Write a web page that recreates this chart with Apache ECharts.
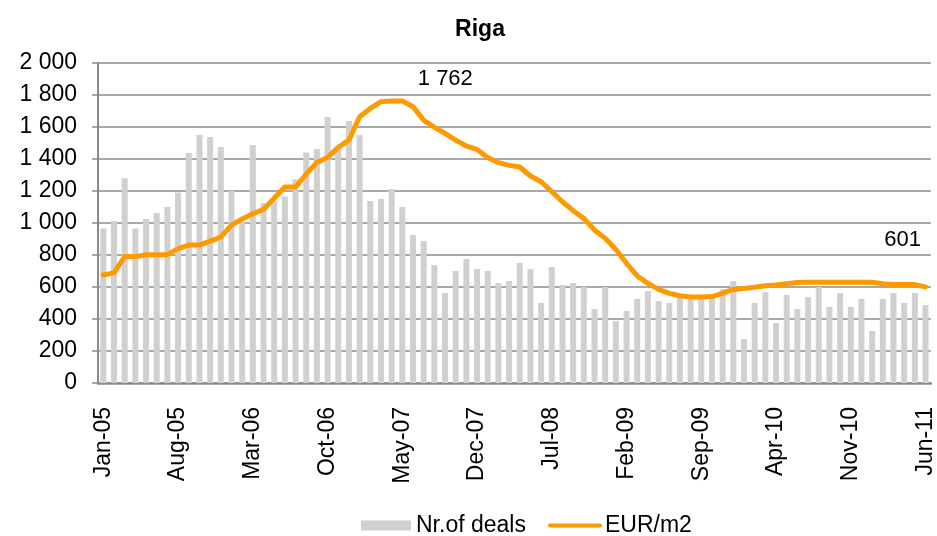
<!DOCTYPE html>
<html>
<head>
<meta charset="utf-8">
<script src="https://cdn.jsdelivr.net/npm/echarts@6/dist/echarts.min.js"></script>
<style>
  html, body { margin: 0; padding: 0; background: #fff; }
  #chart { width: 937px; height: 536px; }
</style>
</head>
<body>
<div id="chart"></div>
<script>
// months Jan-05 .. Jun-11
var monthNames = ['Jan','Feb','Mar','Apr','May','Jun','Jul','Aug','Sep','Oct','Nov','Dec'];
var years = ['05','06','07','08','09','10','11'];
var months = [];
years.forEach(function (y) {
    monthNames.forEach(function (m) {
        months.push(m + '-' + y);
    });
});
months = months.slice(0, 78);

// Nr. of deals (bars)
var deals = [
    965, 1012, 1280, 965, 1025, 1062, 1100, 1190, 1437, 1550, 1537, 1475,
    1200, 1010, 1487, 1125, 1135, 1165, 1273, 1440, 1462, 1662, 1470, 1637,
    1550, 1137, 1150, 1212, 1100, 925, 887, 737, 562, 700, 775, 712,
    700, 625, 637, 750, 712, 500, 725, 612, 625, 600, 462, 600,
    387, 450, 525, 575, 512, 500, 540, 530, 530, 540, 587, 637,
    275, 500, 567, 375, 550, 462, 537, 600, 475, 562, 475, 525,
    325, 525, 562, 500, 562, 487
];

// EUR/m2 (line)
var price = [
    675, 688, 790, 790, 802, 802, 802, 840, 862, 862, 887, 912,
    987, 1025, 1058, 1085, 1154, 1225, 1225, 1305, 1379, 1410, 1473, 1518,
    1664, 1716, 1758, 1762, 1762, 1727, 1643, 1598, 1560, 1518, 1481, 1460,
    1410, 1377, 1360, 1350, 1294, 1258, 1196, 1133, 1077, 1029, 956, 904,
    835, 748, 669, 623, 585, 560, 545, 538, 537, 540, 560, 585,
    590, 598, 608, 612, 620, 628, 630, 630, 630, 630, 630, 630,
    630, 620, 615, 615, 615, 601
];

// which line points carry a value label
var labelledPoints = [28, 77];

function fmt(v) {
    return String(v).replace(/\B(?=(\d{3})+$)/g, ' ');
}

var font = '"Liberation Sans", Arial, sans-serif';
var chart = echarts.init(document.getElementById('chart'), null, { renderer: 'canvas' });

var marks = labelledPoints.map(function (i) {
    return {
        coord: [i, price[i]],
        value: price[i],
        label: { offset: i === 28 ? [43, -6] : [-23, -30] }
    };
});

chart.setOption({
    animation: false,
    title: {
        text: 'Riga',
        left: 475,
        top: 13,
        textAlign: 'center',
        textStyle: { fontFamily: font, fontSize: 23, fontWeight: 'bold', color: '#000' }
    },
    legend: {
        left: 356,
        top: 509,
        itemWidth: 50,
        itemHeight: 10,
        itemGap: 22,
        textStyle: { fontFamily: font, fontSize: 23, color: '#000' },
        data: [
            { name: 'Nr.of deals', icon: 'rect' },
            { name: 'EUR/m2', itemStyle: { opacity: 0 }, lineStyle: { width: 4 } }
        ]
    },
    grid: { left: 98, right: 3, top: 63, bottom: 153 },
    xAxis: {
        type: 'category',
        data: months,
        boundaryGap: true,
        axisLine: { lineStyle: { color: '#8a8a8a', width: 2.5 } },
        axisTick: { show: false },
        axisLabel: {
            interval: 6,
            rotate: 90,
            margin: 24,
            fontFamily: font,
            fontSize: 23,
            color: '#000'
        }
    },
    yAxis: {
        type: 'value',
        min: 0,
        max: 2000,
        interval: 200,
        axisLine: { show: true, lineStyle: { color: '#8a8a8a', width: 2 } },
        axisTick: { show: true, length: 6, lineStyle: { color: '#8a8a8a', width: 1.5 } },
        splitLine: { lineStyle: { color: '#8c8c8c', width: 1.5 } },
        axisLabel: {
            margin: 21,
            fontFamily: font,
            fontSize: 23,
            color: '#000',
            formatter: fmt
        }
    },
    series: [
        {
            name: 'Nr.of deals',
            type: 'bar',
            data: deals,
            barWidth: 6,
            itemStyle: { color: '#d1d0ce' }
        },
        {
            name: 'EUR/m2',
            type: 'line',
            data: price,
            symbol: 'none',
            lineStyle: { color: '#ff9900', width: 5, cap: 'round', join: 'round' },
            itemStyle: { color: '#ff9900' },
            z: 3,
            markPoint: {
                symbol: 'circle',
                symbolSize: 1,
                itemStyle: { color: 'rgba(0,0,0,0)' },
                label: {
                    show: true,
                    position: 'top',
                    formatter: function (p) { return fmt(p.value); },
                    fontFamily: font,
                    fontSize: 22,
                    color: '#000'
                },
                data: marks
            }
        }
    ]
});
</script>
</body>
</html>
